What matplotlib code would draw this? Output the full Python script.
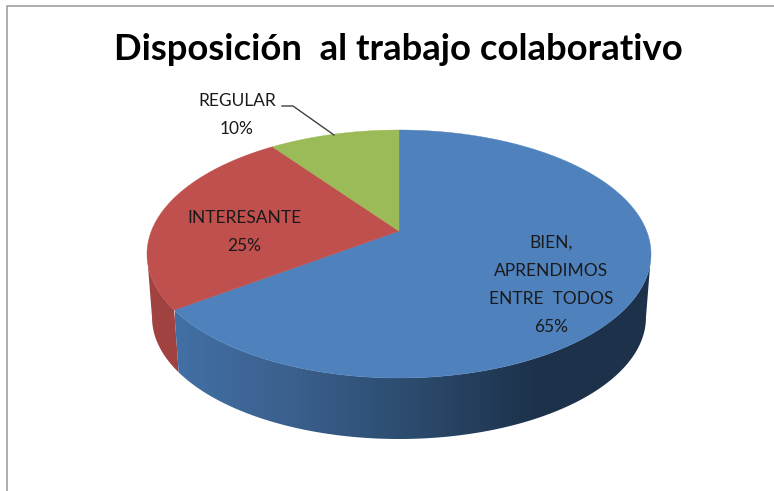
import numpy as np
import matplotlib
matplotlib.use("Agg")
import matplotlib.pyplot as plt
from matplotlib.colors import to_rgb, LinearSegmentedColormap
from matplotlib.patches import Polygon

title = "Disposición  al trabajo colaborativo"
labels = ["BIEN,\nAPRENDIMOS\nENTRE  TODOS", "INTERESANTE", "REGULAR"]
values = [65, 25, 10]
top_colors = ["#4f81bd", "#c0504d", "#9bbb59"]

plt.rcParams['font.family'] = ['Lato', 'DejaVu Sans']

# pie geometry in image pixels
cx, cy = 399, 254
rx, ry = 252, 124
depth = 61
persp = 0.185
shrink = 0.98


def rim(t):
    # t runs clockwise from 12 o'clock, with a little perspective on the disc
    u, v = np.sin(t), np.cos(t)
    w = 1 + persp * v
    x = cx + rx * np.sqrt(1 - persp ** 2) * u / w
    y = cy - ry * (v + persp) / w
    return x, y


def lower_rim(t):
    # bottom edge of the wall is a bit smaller, it is further from the eye
    x, y = rim(t)
    return cx + (x - cx) * shrink, cy + depth + ry * (1 - shrink) + (y - cy) * shrink


fig = plt.figure(figsize=(7.74, 4.91), dpi=100)
ax = fig.add_axes([0, 0, 1, 1])
ax.axis("off")

# chart frame, only left and top show in the crop
ax.plot([6.5, 6.5, 774], [491, 5.5, 5.5], color="#a0a0a0", lw=1.2)

edges = np.cumsum([0] + values) / sum(values) * 2 * np.pi

# only the front of the wall is seen, between the far right and far left of the rim
tt = np.linspace(0, 2 * np.pi, 2000)
t_right = tt[np.argmax(rim(tt)[0])]
t_left = tt[np.argmin(rim(tt)[0])]

# side walls first
wall_cmap = LinearSegmentedColormap.from_list(
    "wall", ["#4270a5", "#3a5f8c", "#2b4a6c", "#1d314a", "#1d314a"])
for i in range(len(values)):
    lo = max(edges[i], t_right)
    hi = min(edges[i + 1], t_left)
    if hi <= lo:
        continue
    ts = np.linspace(lo, hi, 300)
    xa, ya = rim(ts)
    xb, yb = lower_rim(ts)
    pts = np.c_[np.r_[xa, xb[::-1]], np.r_[ya, yb[::-1]]]
    if i == 0:
        wall = Polygon(pts, closed=True, transform=ax.transData, fc="none", ec="none")
        ax.add_patch(wall)
        img = ax.imshow(np.linspace(0, 1, 256).reshape(1, -1), cmap=wall_cmap, aspect="auto",
                        extent=[175, 660, 450, 240], zorder=2, interpolation="bilinear")
        img.set_clip_path(wall)
    else:
        ax.fill(pts[:, 0], pts[:, 1], color=tuple(np.array(to_rgb(top_colors[i])) * 0.83),
                lw=0, zorder=1.5)

# top of the pie
for i in range(len(values)):
    ts = np.linspace(edges[i], edges[i + 1], 300)
    xs, ys = rim(ts)
    ax.fill(np.r_[cx, xs], np.r_[cy - ry * persp, ys], color=top_colors[i], lw=0.3, zorder=3)

ax.set_xlim(0, 774)
ax.set_ylim(491, 0)

ax.text(398, 49, title, ha="center", va="center", fontsize=26.2,
        fontweight="bold", color="black", zorder=5)

txt = "#1a1a1a"
ax.text(551, 285, labels[0] + "\n%d%%" % values[0], ha="center", va="center",
        fontsize=12.5, color=txt, linespacing=1.94, zorder=5)
ax.text(244, 232, labels[1] + "\n%d%%" % values[1], ha="center", va="center",
        fontsize=12.5, color=txt, linespacing=1.94, zorder=5)
ax.text(237, 115, labels[2] + "\n%d%%" % values[2], ha="center", va="center",
        fontsize=12.5, color=txt, linespacing=1.94, zorder=5)

# leader line for the small slice
ax.plot([282, 293, 334], [106, 106, 135], color="#404040", lw=1, zorder=4)

fig.savefig("out.png", dpi=100)
